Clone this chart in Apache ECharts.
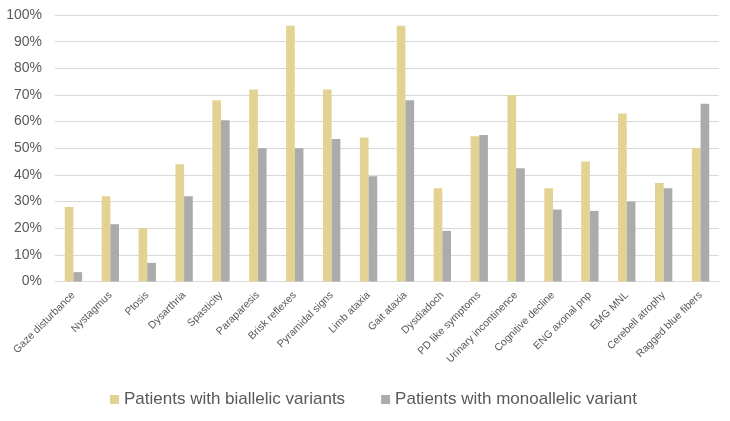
<!DOCTYPE html>
<html>
<head>
<meta charset="utf-8">
<script src="https://cdn.jsdelivr.net/npm/echarts@6/dist/echarts.min.js"></script>
<style>
html,body{margin:0;padding:0;background:#fff;}
#chart{width:730px;height:421px;}
</style>
</head>
<body>
<div id="chart"></div>
<script>
var categories = ["Gaze disturbance","Nystagmus","Ptosis","Dysarthria","Spasticity","Paraparesis","Brisk reflexes","Pyramidal signs","Limb ataxia","Gait ataxia","Dysdiadoch","PD like symptoms","Urinary incontinence","Cognitive decline","ENG axonal pnp","EMG MNL","Cerebell atrophy","Ragged blue fibers"];
var biallelic = [28, 32, 20, 44, 68, 72, 96, 72, 54, 96, 35, 54.5, 70, 35, 45, 63, 37, 50];
var monoallelic = [3.5, 21.5, 7, 32, 60.5, 50, 50, 53.5, 39.5, 68, 19, 55, 42.5, 27, 26.5, 30, 35, 66.7];
var seriesNames = ["Patients with biallelic variants", "Patients with monoallelic variant"];

var chart = echarts.init(document.getElementById('chart'), null, {renderer:'canvas'});
chart.setOption({
  animation: false,
  backgroundColor: '#ffffff',
  textStyle: {fontFamily: 'Liberation Sans, Arial, sans-serif'},
  grid: {left: 55, right: 11, top: 15, bottom: 139.5, containLabel: false},
  legend: {
    top: 386,
    left: 105,
    itemWidth: 9, itemHeight: 9, itemGap: 36,
    icon: 'rect',
    textStyle: {fontSize: 17, color: '#595959', fontFamily: 'Liberation Sans, Arial, sans-serif'},
    data: seriesNames
  },
  xAxis: {
    type: 'category',
    data: categories,
    axisLine: {lineStyle: {color: '#D9D9D9', width: 1}},
    axisTick: {show: false},
    axisLabel: {rotate: 45, fontSize: 10.5, color: '#595959', interval: 0, margin: 12}
  },
  yAxis: {
    type: 'value',
    min: 0, max: 100, interval: 10,
    axisLine: {show: false},
    axisTick: {show: false},
    splitLine: {lineStyle: {color: '#D9D9D9', width: 1}},
    axisLabel: {formatter: '{value}%', fontSize: 14, color: '#595959', margin: 13}
  },
  series: [
    {name: seriesNames[0], type: 'bar', data: biallelic, barGap: '0%', barCategoryGap: '53%', itemStyle: {color: '#E3D392'}},
    {name: seriesNames[1], type: 'bar', data: monoallelic, barGap: '0%', barCategoryGap: '53%', itemStyle: {color: '#ABABAB'}}
  ]
});
</script>
</body>
</html>
